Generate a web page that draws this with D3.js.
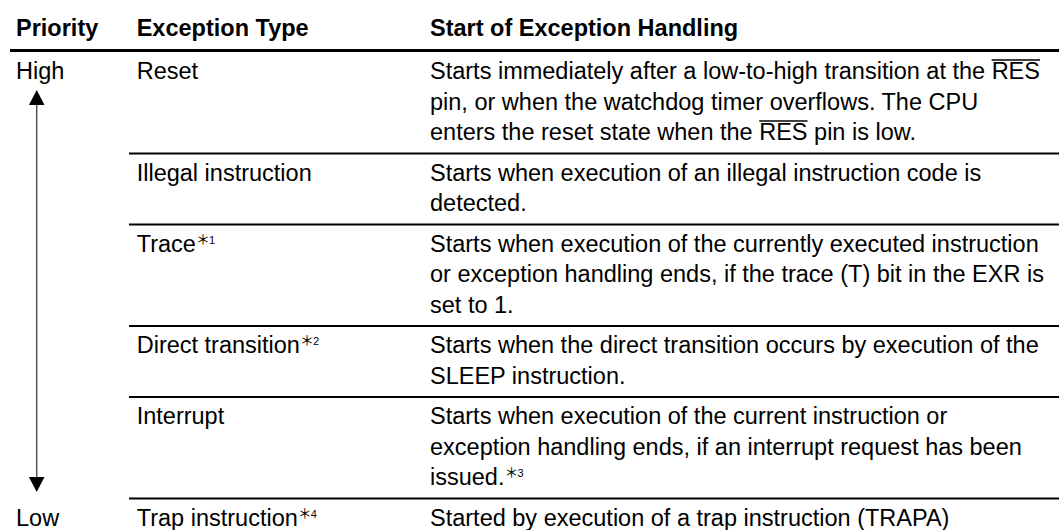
<!DOCTYPE html>
<html>
<head>
<meta charset="utf-8">
<script src="https://cdn.jsdelivr.net/npm/d3@7"></script>
<style>
  html, body { margin: 0; padding: 0; background: #fff; }
  svg text { font-family: "Liberation Sans", Arial, Helvetica, sans-serif; fill: #000; }
  svg tspan.ast { font-family: "Noto Sans CJK JP", "DejaVu Sans", sans-serif; }
</style>
</head>
<body>
<svg id="chart" width="1059" height="530"></svg>
<script>
// ---- data ----
const headers = ["Priority", "Exception Type", "Start of Exception Handling"];
const priorityLabels = ["High", "Low"];
const exceptionTypes = ["Reset", "Illegal instruction", "Trace", "Direct transition", "Interrupt", "Trap instruction"];
const typeNotes = ["", "", "1", "2", "", "4"];
// {X} = overlined text, [n] = superscript note mark
const descriptions = [
  ["Starts immediately after a low-to-high transition at the {RES}",
   "pin, or when the watchdog timer overflows. The CPU",
   "enters the reset state when the {RES} pin is low."],
  ["Starts when execution of an illegal instruction code is",
   "detected."],
  ["Starts when execution of the currently executed instruction",
   "or exception handling ends, if the trace (T) bit in the EXR is",
   "set to 1."],
  ["Starts when the direct transition occurs by execution of the",
   "SLEEP instruction."],
  ["Starts when execution of the current instruction or",
   "exception handling ends, if an interrupt request has been",
   "issued.[3]"],
  ["Started by execution of a trap instruction (TRAPA)"]
];

// ---- layout ----
const W = 1059;
const fontSize = 23.5, astSize = 14, digitSize = 11;
const colX = d3.scaleOrdinal().domain(headers).range([16, 136.7, 430]);
const headerBaseline = 36, headerRuleY = 50.5;
const linePitch = d3.scaleLinear().domain([0, 1]).range([0, 30.5]);
const firstOffset = 27, bottomPad = 13.5;

const svg = d3.select("#chart");

// note mark: big asterisk + small digit, raised
function addNote(textSel, digit, dx) {
  textSel.append("tspan").attr("class", "ast")
    .attr("font-size", astSize).attr("dy", -8).attr("dx", dx).text("＊");
  textSel.append("tspan")
    .attr("font-size", digitSize).attr("dx", -1).text(digit);
}

// header
svg.selectAll("text.hdr").data(headers).join("text")
  .attr("class", "hdr")
  .attr("x", d => colX(d)).attr("y", headerBaseline)
  .attr("font-size", fontSize).attr("font-weight", "bold")
  .text(d => d);

svg.append("line")
  .attr("x1", 10).attr("x2", W).attr("y1", headerRuleY).attr("y2", headerRuleY)
  .attr("stroke", "#000").attr("stroke-width", 3);

// rows geometry
const rows = [];
let yCursor = headerRuleY + 1;
exceptionTypes.forEach((t, i) => {
  const n = descriptions[i].length;
  const off = i === 0 ? firstOffset + 0.5 : firstOffset;
  const h = off + linePitch(n - 1) + bottomPad;
  rows.push({ type: t, note: typeNotes[i], lines: descriptions[i], top: yCursor, base: yCursor + off, h });
  yCursor += h;
});

// separators
svg.selectAll("line.sep").data(rows.slice(1)).join("line")
  .attr("class", "sep")
  .attr("x1", 129).attr("x2", W)
  .attr("y1", d => d.top).attr("y2", d => d.top)
  .attr("stroke", "#000").attr("stroke-width", 2);

// exception type column
svg.selectAll("text.type").data(rows).join("text")
  .attr("class", "type")
  .attr("x", colX(headers[1])).attr("y", d => d.base)
  .attr("font-size", fontSize)
  .each(function(d) {
    const t = d3.select(this);
    t.append("tspan").text(d.type);
    if (d.note) addNote(t, d.note, 0);
  });

// description lines
function parse(line) {
  const parts = [];
  const re = /\{([^}]*)\}|\[([^\]]*)\]|([^{\[]+)/g;
  let m;
  while ((m = re.exec(line))) {
    if (m[1] !== undefined) parts.push({ t: m[1], over: true });
    else if (m[2] !== undefined) parts.push({ t: m[2], sup: true });
    else parts.push({ t: m[3] });
  }
  return parts;
}
const lineData = [];
rows.forEach(r => r.lines.forEach((l, j) => lineData.push({ y: r.base + linePitch(j), parts: parse(l) })));

svg.selectAll("text.desc").data(lineData).join("text")
  .attr("class", "desc")
  .attr("x", colX(headers[2])).attr("y", d => d.y)
  .attr("font-size", fontSize)
  .each(function(d) {
    const t = d3.select(this);
    let idx = 0;
    d.parts.forEach(p => {
      p.start = idx;
      if (p.sup) { addNote(t, p.t, 0); idx += 1 + p.t.length; }
      else { t.append("tspan").text(p.t); idx += p.t.length; }
    });
    d.parts.filter(p => p.over).forEach(p => {
      const node = this;
      const x0 = node.getStartPositionOfChar(p.start).x;
      const len = node.getSubStringLength(p.start, p.t.length);
      svg.append("line")
        .attr("x1", x0).attr("x2", x0 + len)
        .attr("y1", d.y - 19).attr("y2", d.y - 19)
        .attr("stroke", "#000").attr("stroke-width", 1.3);
    });
  });

// priority labels
const lastRow = rows[rows.length - 1];
svg.selectAll("text.prio").data(priorityLabels).join("text")
  .attr("class", "prio")
  .attr("x", colX(headers[0]))
  .attr("y", (d, i) => i === 0 ? rows[0].base : lastRow.base)
  .attr("font-size", fontSize)
  .text(d => d);

// priority arrow
const ax = 36.7, upTip = rows[0].base + 11, downTip = lastRow.top - 6.5, headH = 15, headW = 7.8;
svg.append("line")
  .attr("x1", ax).attr("x2", ax).attr("y1", upTip + headH - 1).attr("y2", downTip - headH + 1)
  .attr("stroke", "#555").attr("stroke-width", 1.5);
svg.append("path")
  .attr("d", d3.line()([[ax, upTip], [ax - headW, upTip + headH], [ax + headW, upTip + headH]]) + "Z")
  .attr("fill", "#000");
svg.append("path")
  .attr("d", d3.line()([[ax, downTip], [ax - headW, downTip - headH], [ax + headW, downTip - headH]]) + "Z")
  .attr("fill", "#000");
</script>
</body>
</html>
